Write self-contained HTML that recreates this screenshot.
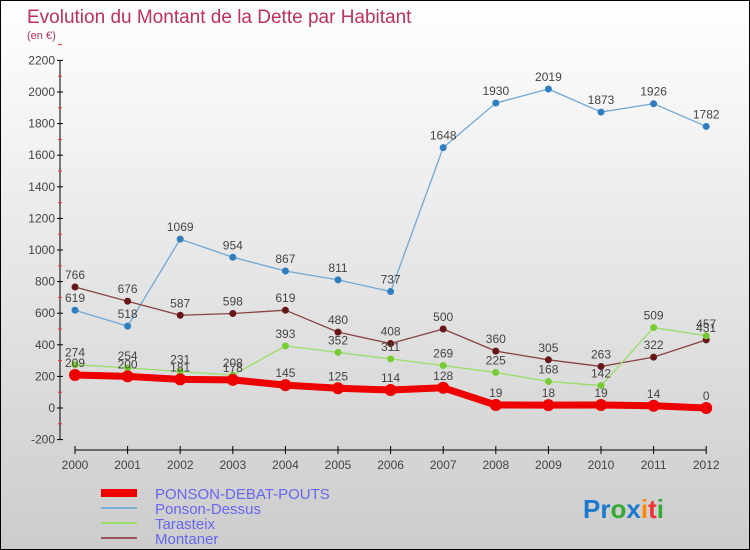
<!DOCTYPE html>
<html><head><meta charset="utf-8"><style>
html,body{margin:0;padding:0}
body{width:750px;height:550px;overflow:hidden;font-family:"Liberation Sans",sans-serif}
#wrap{position:relative;width:748px;height:548px;border:1px solid #000;background:linear-gradient(#fff,#ccc)}
svg{position:absolute;left:0;top:0}
</style></head><body>
<div id="wrap">
<svg id="c" width="748" height="548">
<text x="26" y="22" font-size="19" fill="#c0305a">Evolution du Montant de la Dette par Habitant</text>
<text x="26" y="38" font-size="11" fill="#c0305a">(en €)</text>
<g id="axes"></g><g id="series"></g>
<g>
<rect x="100" y="488" width="36" height="8" fill="#e00"/>
<text x="154" y="498" font-size="15" fill="#6666ee">PONSON-DEBAT-POUTS</text>
<line x1="100" y1="507" x2="136" y2="507" stroke="#7aaed0" stroke-width="2"/>
<text x="154" y="513" font-size="15" fill="#6666ee">Ponson-Dessus</text>
<line x1="100" y1="522" x2="136" y2="522" stroke="#99dd66" stroke-width="2"/>
<text x="154" y="528" font-size="15" fill="#6666ee">Tarasteix</text>
<line x1="100" y1="537" x2="136" y2="537" stroke="#995555" stroke-width="2"/>
<text x="154" y="543" font-size="15" fill="#6666ee">Montaner</text>
</g>
<text x="582" y="517" font-size="26" font-weight="bold"><tspan fill="#1a7ad0">Pr</tspan><tspan fill="#3a3">o</tspan><tspan fill="#1a7ad0">x</tspan><tspan fill="#f80">i</tspan><tspan fill="#e33">t</tspan><tspan fill="#3a3">i</tspan></text>
</svg></div>
<script>
const years=[2000,2001,2002,2003,2004,2005,2006,2007,2008,2009,2010,2011,2012];
const yTicks=[-200,0,200,400,600,800,1000,1200,1400,1600,1800,2000,2200];
const pdp=[209,200,181,178,145,125,114,128,19,18,19,14,0];
const dessus=[619,518,1069,954,867,811,737,1648,1930,2019,1873,1926,1782];
const tarasteix=[274,254,231,208,393,352,311,269,225,168,142,509,457];
const montaner=[766,676,587,598,619,480,408,500,360,305,263,322,431];
const NS="http://www.w3.org/2000/svg";
const X=i=>74+i*52.6;
const Y=v=>407-v*0.158;
function mk(t,a,p){const e=document.createElementNS(NS,t);for(const k in a)e.setAttribute(k,a[k]);p.appendChild(e);return e;}
const ax=document.getElementById('axes');
const ya=mk('line',{x1:59,y1:Y(2200),x2:59,y2:Y(-200),stroke:'#000'},ax);


const xa=mk('line',{x1:X(0),y1:449,x2:X(12),y2:449,stroke:'#000'},ax);


yTicks.forEach(v=>{
 mk('line',{x1:56,y1:Y(v),x2:62,y2:Y(v),stroke:'#000'},ax);
 mk('line',{x1:57,y1:Y(v+100),x2:61,y2:Y(v+100),stroke:'#e33'},ax);
 const t=mk('text',{x:54,y:Y(v)+4,'font-size':12,fill:'#444','text-anchor':'end'},ax);
 t.textContent=v;
 
 
});
years.forEach((y,i)=>{
 mk('line',{x1:X(i),y1:445,x2:X(i),y2:453,stroke:'#000'},ax);
 const t=mk('text',{x:X(i),y:468,'font-size':12,fill:'#444','text-anchor':'middle'},ax);
 t.textContent=y;
 
 
});
const sg=document.getElementById('series');
function series(d,col,w,r,name,dot){
 const l=mk('polyline',{points:d.map((v,i)=>X(i)+','+Y(v)).join(' '),fill:'none',stroke:col,'stroke-width':w,'stroke-linejoin':'round'},sg);
 
 
 d.forEach((v,i)=>{
  const c=mk('circle',{cx:X(i),cy:Y(v),r:r,fill:dot},sg);
  
  
  const t=mk('text',{x:X(i),y:Y(v)-8,'font-size':12,fill:'#444','text-anchor':'middle'},sg);
  t.textContent=v;
  
  
 });
}
series(dessus,'#6fa8d6',1.3,3.5,'ponson-dessus','#2f7ec0');
series(montaner,'#884444',1.3,3.5,'montaner','#661818');
series(tarasteix,'#99dd66',1.3,3.5,'tarasteix','#77cc33');
series(pdp,'#ee0000',7,6,'ponson-debat-pouts','#ee0000');
</script>
</body></html>
